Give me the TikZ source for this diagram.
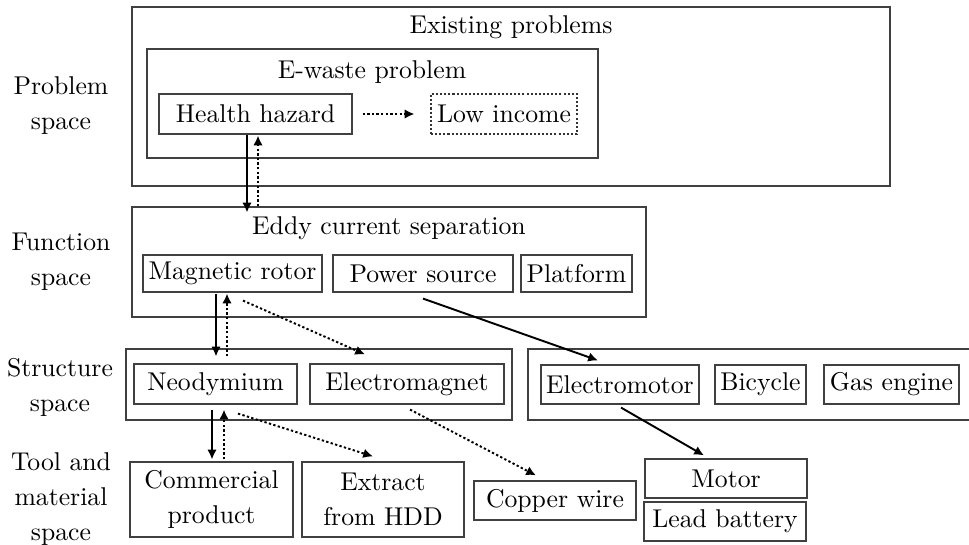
\documentclass[tikz,border=0pt]{standalone}
\usetikzlibrary{arrows.meta,calc}
\newdimen\pxu \pxu=0.389pt
% rectangle node given by its corners: [opts]{x1}{y1}{x2}{y2}{name}{text}
\newcommand\mybox[7][]{%
  \node[frame,#1,minimum width={(#4-#2)*\pxu},minimum height={(#5-#3)*\pxu}]
    (#6) at ({(#2+#4)/2},{(#3+#5)/2}) {#7};}
\begin{document}
\begin{tikzpicture}[x=\pxu,y=-\pxu,
  every node/.style={font=\fontsize{10}{13.6}\selectfont,inner sep=0pt,align=center},
  frame/.style={draw=black!75,line width=0.45pt},
  dotframe/.style={draw=black!80,line width=0.45pt,dash pattern=on 0.8pt off 0.8pt},
  arr/.style={line width=0.75pt,-{Latex[length=3.8pt,width=3.7pt]}},
  dotarr/.style={arr,dash pattern=on 0.9pt off 0.9pt},
  sidelabel/.style={}]
\useasboundingbox (0,0) rectangle (969,544);

% row labels
\node[sidelabel] (lprob)   at (61,106) {Problem\\space};
\node[sidelabel] (lfunc)   at (61,262) {Function\\space};
\node[sidelabel] (lstruct) at (60,387) {Structure\\space};
\node[sidelabel] (ltool)   at (61,499) {Tool and\\material\\space};

% problem space
\mybox{132}{7}{890}{186}{existing}{}
\node (existingT) at (511,27) {Existing problems};
\mybox{147}{49}{598}{158}{ewaste}{}
\node (ewasteT) at (372,72) {E-waste problem};
\mybox{159}{94}{352}{134}{HH}{Health hazard}
\mybox[dotframe]{431}{94}{577}{134}{LI}{Low income}

% function space
\mybox{132}{207}{646}{317}{Eddy}{}
\node (EddyT) at (389,228) {Eddy current separation};
\mybox{143}{255}{322}{292}{MR}{Magnetic rotor}
\mybox{333}{255}{513}{292}{PS}{Power source}
\mybox{521}{255}{632}{292}{PF}{Platform}

% structure space
\mybox{126}{349}{512}{420}{structL}{}
\mybox{134}{364}{297}{404}{Neo}{Neodymium}
\mybox{310}{364}{504}{404}{EM}{Electromagnet}
\mybox{528}{349}{990}{420}{structR}{}
\mybox{541}{365}{699}{404}{EMot}{Electromotor}
\mybox{715}{365}{806}{404}{Bic}{Bicycle}
\mybox{824}{365}{959}{404}{Gas}{Gas engine}

% tool and material space
\mybox{130}{462}{293}{537}{Com}{Commercial\\product}
\mybox{302}{462}{464}{537}{Ext}{Extract\\from HDD}
\mybox{474}{481}{636}{520}{Cu}{Copper wire}
\mybox{645}{459}{807}{498}{Mot}{Motor}
\mybox{644}{502}{806}{541}{Lead}{Lead battery}

% connectors
\draw[dotarr] ($(HH.east)+(10,0)$) -- ($(LI.west)+(-16,0)$);
\draw[arr] ($(HH.south)+(-8.5,0)$) -- ($(HH.south |- Eddy.north)+(-8.5,6)$);
\draw[dotarr] ($(HH.south |- Eddy.north)+(2.5,0)$) -- ($(HH.south)+(2.5,1)$);

\draw[arr] ($(MR.south)+(-16.5,1)$) -- ($(MR.south |- Neo.north)+(-16.5,-7)$);
\draw[dotarr] ($(MR.south |- Neo.north)+(-5.5,-7)$) -- ($(MR.south)+(-5.5,1)$);
\draw[dotarr] ($(MR.south)+(10.5,8)$) -- ($(EM.north)+(-42,-9)$);
\draw[arr] ($(PS.south)+(0,6)$) -- ($(EMot.north)+(-22,-4)$);

\draw[arr] ($(Neo.south)+(-3.5,5)$) -- ($(Neo.south |- Com.north)+(-3.5,-2)$);
\draw[dotarr] ($(Neo.south |- Com.north)+(8.5,-2)$) -- ($(Neo.south)+(8.5,5)$);
\draw[dotarr] ($(Neo.south)+(22.5,9)$) -- ($(Ext.north)+(-10,-5)$);
\draw[dotarr] ($(EM.south)+(3,5)$) -- ($(Cu.north)+(-19,-5)$);
\draw[arr] ($(EMot.south)+(1,3)$) -- ($(Mot.north)+(-22,-3)$);
\end{tikzpicture}
\end{document}
